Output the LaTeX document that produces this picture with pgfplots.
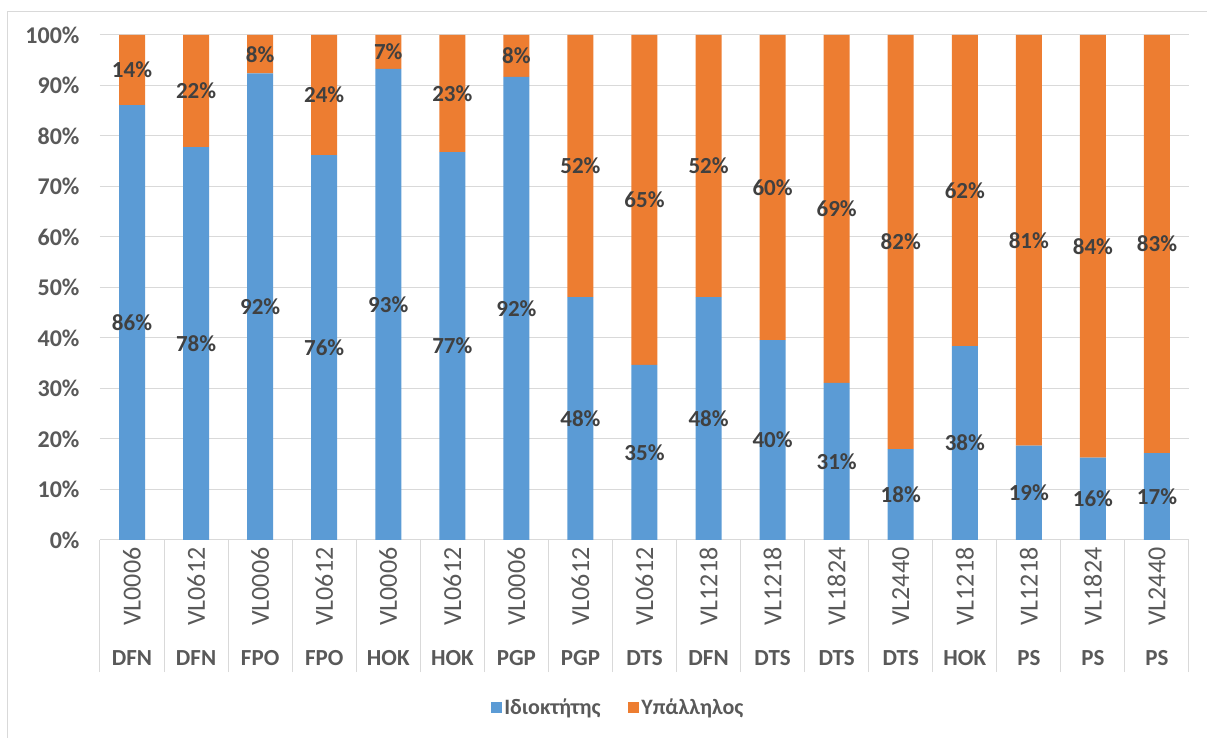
\documentclass[border=0pt]{standalone}
\usepackage{pgfplots}
\pgfplotsset{compat=1.18}
\usepackage{pgfplotstable}
\usepackage{fontspec}
\setmainfont{Carlito}
\definecolor{cblue}{HTML}{5B9BD5}
\definecolor{corange}{HTML}{ED7D31}
\definecolor{tgray}{HTML}{595959}
\definecolor{dgray}{HTML}{404040}
\definecolor{gridc}{HTML}{D9D9D9}

\pgfplotstableread{
x own emp
0 86.1 13.9
1 77.8 22.2
2 92.4 7.6
3 76.2 23.8
4 93.3 6.7
5 76.8 23.2
6 91.7 8.3
7 48.1 51.9
8 34.7 65.3
9 48.1 51.9
10 39.6 60.4
11 31.1 68.9
12 18.0 82.0
13 38.4 61.6
14 18.7 81.3
15 16.3 83.7
16 17.2 82.8
}\datatab

\pgfplotstableread{
x y lab
0 43.05 86
1 38.9 78
2 46.2 92
3 38.1 76
4 46.65 93
5 38.4 77
6 45.85 92
7 24.05 48
8 17.35 35
9 24.05 48
10 19.8 40
11 15.55 31
12 9.0 18
13 19.2 38
14 9.35 19
15 8.15 16
16 8.6 17
}\ownlab

\pgfplotstableread{
x y lab
0 93.05 14
1 88.9 22
2 96.2 8
3 88.1 24
4 96.65 7
5 88.4 23
6 95.85 8
7 74.05 52
8 67.35 65
9 74.05 52
10 69.8 60
11 65.55 69
12 59.0 82
13 69.2 62
14 59.35 81
15 58.15 84
16 58.6 83
}\emplab

\newcommand{\vl}[1]{\rotatebox{90}{\fontsize{26}{28}\selectfont\mdseries #1}}

\begin{document}
\begin{tikzpicture}[x=1pt,y=1pt]
\useasboundingbox (-100,-198) rectangle (1107,540);
\draw[gridc, line width=1pt] (-92,-198) -- (-92,528) -- (1107,528);
\pgfplotsset{
  common/.style={
    scale only axis, width=1089pt, height=505pt,
    xmin=-0.5, xmax=16.5, ymin=0, ymax=100,
    at={(0,0)}, anchor=south west,
  }
}
\begin{axis}[
  common,
  ybar stacked, bar width=26pt,
  axis line style={draw=none},
  ymajorgrids, grid style={gridc, line width=1pt},
  ytick={0,10,...,100},
  yticklabels={0\%,10\%,20\%,30\%,40\%,50\%,60\%,70\%,80\%,90\%,100\%},
  yticklabel style={font=\fontsize{24}{26}\selectfont\bfseries, text=tgray, xshift=-17pt},
  major tick length=0pt,
  tick pos=left,
  xtick={0,...,16},
  xticklabels={
    {\vl{VL0006}\\[14pt]DFN},
    {\vl{VL0612}\\[14pt]DFN},
    {\vl{VL0006}\\[14pt]FPO},
    {\vl{VL0612}\\[14pt]FPO},
    {\vl{VL0006}\\[14pt]HOK},
    {\vl{VL0612}\\[14pt]HOK},
    {\vl{VL0006}\\[14pt]PGP},
    {\vl{VL0612}\\[14pt]PGP},
    {\vl{VL0612}\\[14pt]DTS},
    {\vl{VL1218}\\[14pt]DFN},
    {\vl{VL1218}\\[14pt]DTS},
    {\vl{VL1824}\\[14pt]DTS},
    {\vl{VL2440}\\[14pt]DTS},
    {\vl{VL1218}\\[14pt]HOK},
    {\vl{VL1218}\\[14pt]PS},
    {\vl{VL1824}\\[14pt]PS},
    {\vl{VL2440}\\[14pt]PS}},
  xticklabel style={font=\fontsize{23}{26}\selectfont\bfseries, text=tgray, align=center, anchor=north, yshift=-4pt},
  extra x ticks={-0.5,0.5,...,16.5},
  extra x tick labels={},
  extra x tick style={grid=none, major tick length=132pt, tick align=outside,
     tick style={draw=gridc, line width=1pt}},
  legend style={draw=none, fill=none, legend columns=2, at={(0.476,-0.331)}, anchor=center,
     font=\fontsize{22}{24}\selectfont\bfseries, text=tgray,
     /tikz/every even column/.append style={column sep=26pt}},
  legend image code/.code={\fill[#1] (0pt,-5.5pt) rectangle (11pt,5.5pt);},
]
\addplot[fill=cblue, draw=none] table[x=x, y=own] {\datatab};
\addplot[fill=corange, draw=none] table[x=x, y=emp] {\datatab};
\legend{Ιδιοκτήτης, Υπάλληλος}
\end{axis}
\begin{axis}[
  common, hide axis,
  nodes near coords={\pgfplotspointmeta\%},
  point meta=explicit symbolic,
  every node near coord/.style={anchor=center, font=\fontsize{23}{26}\selectfont\bfseries, text=dgray},
]
\addplot[draw=none, mark=none] table[x=x, y=y, meta=lab] {\ownlab};
\addplot[draw=none, mark=none] table[x=x, y=y, meta=lab] {\emplab};
\end{axis}
\end{tikzpicture}
\end{document}
